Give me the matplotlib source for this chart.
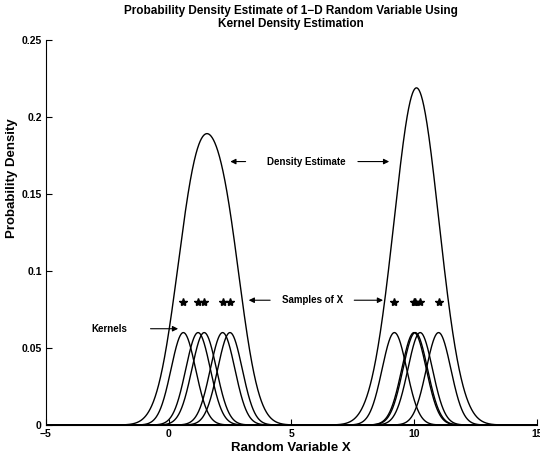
"""Kernel density estimate illustration"""
import numpy as np
import matplotlib.pyplot as plt

plt.rcParams['font.family'] = ['Liberation Sans', 'DejaVu Sans']

# Data: samples of X
samples_left = [0.6, 1.2, 1.45, 2.2, 2.5]
samples_right = [9.2, 10.0, 10.05, 10.25, 11.0]
samples = np.array(samples_left + samples_right)

kernel_peak = 0.06     # height of each drawn kernel
kernel_width = 0.5     # width of drawn kernels
density_bw = 0.7       # bandwidth used for the density estimate
star_level = 0.08

x = np.linspace(-5, 15, 2000)

fig = plt.figure(figsize=(5.4, 4.58), dpi=100)
ax = fig.add_axes([0.085, 0.072, 0.909, 0.841])

# individual kernels
for s in samples:
    ax.plot(x, kernel_peak * np.exp(-0.5 * ((x - s) / kernel_width) ** 2),
            color='black', lw=1.0)

# density estimate
dens = np.zeros_like(x)
for s in samples:
    dens += np.exp(-0.5 * ((x - s) / density_bw) ** 2) / (density_bw * np.sqrt(2 * np.pi))
dens /= len(samples)
ax.plot(x, dens, color='black', lw=1.0)

# sample markers
ax.plot(samples, np.full(len(samples), star_level), linestyle='none',
        marker='*', color='black', markersize=6)

ax.set_xlim(-5, 15)
ax.set_ylim(0, 0.25)
ax.set_xticks([-5, 0, 5, 10, 15])
ax.set_yticks([0, 0.05, 0.1, 0.15, 0.2, 0.25])
ax.set_yticklabels(['0', '0.05', '0.1', '0.15', '0.2', '0.25'])
ax.tick_params(direction='in', length=4, width=0.8, labelsize=7.5, pad=3)
for lab in ax.get_xticklabels() + ax.get_yticklabels():
    lab.set_fontweight('bold')
ax.spines['top'].set_visible(False)
ax.spines['right'].set_visible(False)

ax.set_title('Probability Density Estimate of 1\u2212D Random Variable Using\nKernel Density Estimation',
             fontsize=8.5, fontweight='bold', pad=9)
ax.set_xlabel('Random Variable X', fontsize=9.5, fontweight='bold', labelpad=2)
ax.set_ylabel('Probability Density', fontsize=9.5, fontweight='bold')
ax.yaxis.set_label_coords(-0.057, 0.64)

arrow = dict(arrowstyle='-|>', color='black', lw=0.8, mutation_scale=8)

# Density Estimate
ax.text(5.6, 0.171, 'Density Estimate', fontsize=7, fontweight='bold',
        ha='center', va='center')
ax.annotate('', xy=(2.4, 0.171), xytext=(3.25, 0.171), arrowprops=arrow)
ax.annotate('', xy=(9.1, 0.171), xytext=(7.6, 0.171), arrowprops=arrow)

# Samples of X
ax.text(5.85, 0.081, 'Samples of X', fontsize=7, fontweight='bold',
        ha='center', va='center')
ax.annotate('', xy=(3.15, 0.081), xytext=(4.25, 0.081), arrowprops=arrow)
ax.annotate('', xy=(8.85, 0.081), xytext=(7.45, 0.081), arrowprops=arrow)

# Kernels
ax.text(-2.4, 0.0625, 'Kernels', fontsize=7, fontweight='bold',
        ha='center', va='center')
ax.annotate('', xy=(0.5, 0.0625), xytext=(-0.85, 0.0625), arrowprops=arrow)

fig.savefig('out.png', dpi=100)
plt.close(fig)
